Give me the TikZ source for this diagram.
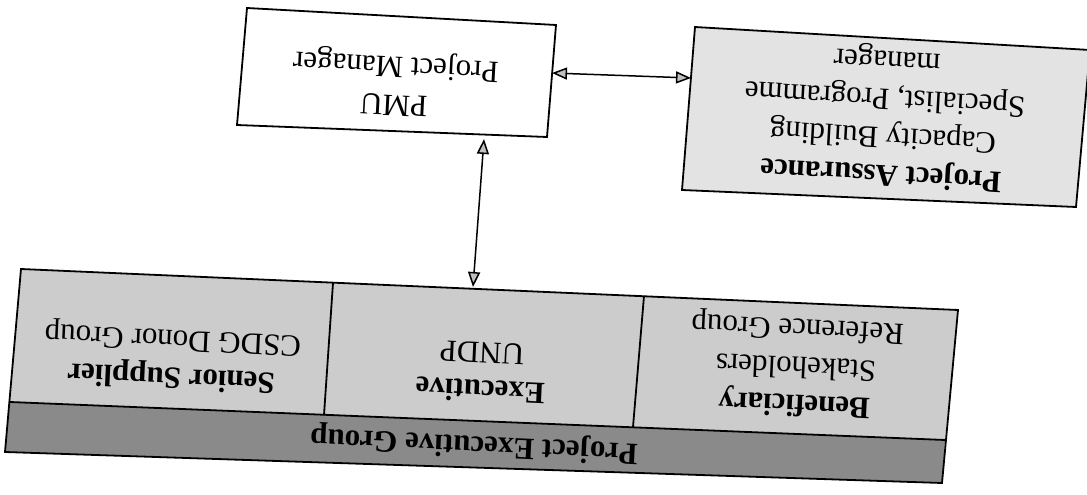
\documentclass[tikz,border=0pt]{standalone}
\usepackage{fontspec}
\setmainfont{Liberation Serif}
\usetikzlibrary{arrows.meta}
\begin{document}
\begin{tikzpicture}[x=1bp,y=-1bp,
  boxline/.style={draw=black, line width=1.8bp, line join=miter},
  lbl/.style={align=center, rotate=177.3, font=\fontsize{31bp}{38bp}\selectfont, inner sep=0pt},
  link/.style={line width=1.5bp,
    {Triangle[length=15bp,width=12bp,fill=black!25]}-{Triangle[length=15bp,width=12bp,fill=black!25]}}
]
\useasboundingbox (0,0) rectangle (1087,495);

% PMU box
\coordinate (pTL) at (247,8);
\coordinate (pTR) at (556,25);
\coordinate (pBR) at (547,137);
\coordinate (pBL) at (237,125);
\draw[boxline, fill=white] (pTL) -- (pTR) -- (pBR) -- (pBL) -- cycle;
\node[lbl, rotate=-0.3] (pmu) at (395,83) {PMU\\Project Manager};

% Project Assurance box
\coordinate (aTL) at (695,27);
\coordinate (aTR) at (1090,50);
\coordinate (aBR) at (1076,207);
\coordinate (aBL) at (682,190);
\draw[boxline, fill=black!11] (aTL) -- (aTR) -- (aBR) -- (aBL) -- cycle;
\node[lbl, rotate=-0.5] (assur) at (884,116) {\textbf{Project Assurance}\\Capacity Building\\Specialist, Programme\\manager};

% Project Executive Group
\coordinate (gTL) at (21,269);
\coordinate (d1T) at (333,283);
\coordinate (d2T) at (644,296);
\coordinate (gTR) at (958,310);
\coordinate (bL) at (10,402);
\coordinate (d1B) at (324,415);
\coordinate (d2B) at (633,427);
\coordinate (bR) at (945,440);
\coordinate (gBR) at (942,483);
\coordinate (gBL) at (5,452);

\fill[black!46] (bL) -- (bR) -- (gBR) -- (gBL) -- cycle;
\fill[black!20] (gTL) -- (gTR) -- (bR) -- (bL) -- cycle;
\draw[boxline] (gTL) -- (gTR) -- (gBR) -- (gBL) -- cycle;
\draw[boxline] (bL) -- (bR);
\draw[boxline] (d1T) -- (d1B);
\draw[boxline] (d2T) -- (d2B);

\node[lbl] (senior) at (172,357) {\textbf{Senior Supplier}\\CSDG Donor Group};
\node[lbl] (exec) at (481,372) {\textbf{Executive}\\UNDP};
\node[lbl] (benef) at (796,365) {\textbf{Beneficiary}\\Stakeholders\\Reference Group};
\node[lbl] (peg) at (474,444) {\textbf{Project Executive Group}};

% connectors
\coordinate (pmuS) at (484,139);
\coordinate (execN) at (473,287);
\coordinate (pmuE) at (552,73);
\coordinate (assurW) at (691,78);
\draw[link] (pmuS) -- (execN);
\draw[link] (pmuE) -- (assurW);
\end{tikzpicture}
\end{document}
